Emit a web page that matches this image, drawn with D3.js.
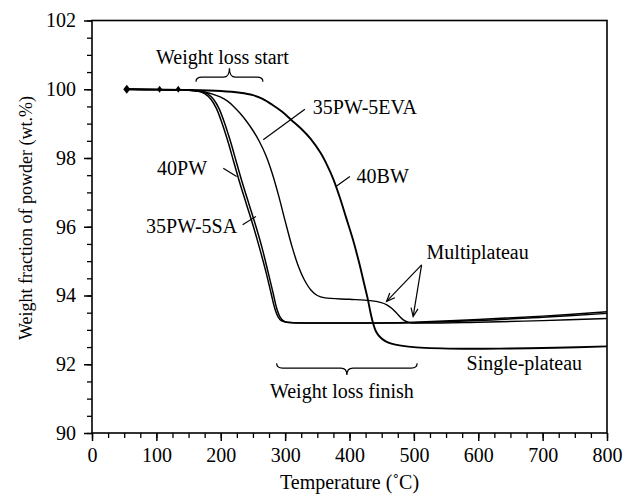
<!DOCTYPE html>
<html>
<head>
<meta charset="utf-8">
<script src="https://cdn.jsdelivr.net/npm/d3@7"></script>
<style>
  html, body { margin: 0; padding: 0; background: #fff; }
  svg { display: block; }
  text { font-family: "Liberation Serif", "DejaVu Serif", serif; fill: #000; }
</style>
</head>
<body>
<svg id="chart" width="630" height="500"></svg>
<script>
// ---------- data (temperature °C, weight %) ----------
const xTicks = [0, 100, 200, 300, 400, 500, 600, 700, 800];
const yTicks = [90, 92, 94, 96, 98, 100, 102];

const series40PW = [[54,100.0],[100,99.99],[150,99.97],[165,99.94],[175,99.87],[185,99.7],[193,99.45],[200,99.12],[210,98.55],[220,97.9],[230,97.25],[240,96.65],[250,96.05],[260,95.4],[270,94.7],[278,94.08],[284,93.62],[289,93.38],[294,93.27],[300,93.23],[350,93.2],[400,93.2],[450,93.2],[500,93.22],[600,93.3],[700,93.4],[800,93.53]];
const series35PW5SA = [[54,100.0],[100,99.99],[150,99.97],[169,99.94],[179,99.87],[189,99.7],[197,99.45],[204,99.12],[214,98.55],[224,97.9],[234,97.25],[244,96.65],[254,96.05],[264,95.4],[273,94.72],[281,94.1],[287,93.62],[292,93.38],[297,93.27],[303,93.22],[350,93.2],[400,93.2],[450,93.2],[500,93.21],[600,93.27],[700,93.37],[800,93.48]];
const series35PW5EVA = [[54,100.0],[100,99.99],[150,99.97],[175,99.92],[190,99.84],[200,99.77],[210,99.66],[220,99.5],[230,99.3],[240,99.07],[250,98.8],[260,98.48],[270,98.08],[280,97.55],[290,96.9],[300,96.17],[310,95.47],[320,94.88],[330,94.45],[340,94.16],[350,94.0],[362,93.93],[400,93.89],[432,93.85],[448,93.8],[458,93.73],[466,93.62],[473,93.49],[483,93.3],[492,93.22],[500,93.2],[600,93.22],[700,93.27],[800,93.33]];
const series40BW = [[54,100.0],[100,99.99],[150,99.98],[200,99.95],[230,99.9],[250,99.83],[265,99.72],[280,99.55],[295,99.35],[310,99.1],[325,98.85],[340,98.55],[355,98.15],[365,97.8],[375,97.38],[385,96.85],[395,96.25],[405,95.65],[415,94.95],[422,94.4],[428,93.93],[433,93.47],[437,93.17],[441,92.96],[447,92.8],[455,92.68],[465,92.6],[480,92.54],[504,92.49],[577,92.45],[650,92.46],[720,92.48],[800,92.52]];
const startMarks = [54, 105, 134];

// annotations (data coords)
const seriesLabels = [
  {text: "35PW-5EVA", t: 343, w: 99.28, from: [330.7, 99.42], to: [266, 98.53]},
  {text: "40BW",      t: 411, w: 97.27, from: [400.6, 97.46], to: [378.9, 97.17]},
  {text: "40PW",      t: 101, w: 97.51, from: [203.9, 97.70], to: [224.7, 97.46]},
  {text: "35PW-5SA",  t: 84,  w: 95.83, from: [234, 96.06],   to: [254.7, 96.30]}
];
const braceAnnotations = [
  {text: "Weight loss start",  tc: 202.6, wText: 100.74, t1: 161.5, t2: 265.5, wEnd: 100.22, wFlat: 100.35, wTip: 100.61},
  {text: "Weight loss finish", tc: 388.2, wText: 91.02,  t1: 286.8, t2: 505.1, wEnd: 92.03,  wFlat: 91.89,  wTip: 91.69}
];
const multiText = {text: "Multiplateau", t: 519.7, w: 95.06};
const multiArrows = [{from: [512, 94.89], to: [457.6, 93.83]}, {from: [512, 94.89], to: [498.9, 93.39]}];
const singleText = {text: "Single-plateau", t: 581.8, w: 91.84};

// ---------- chart ----------
const svg = d3.select("#chart");
const x = d3.scaleLinear().domain([0, 800]).range([92, 607]);
const y = d3.scaleLinear().domain([90, 102]).range([433, 20.5]);
const FS = 20;

// minor ticks
svg.append("g").attr("transform", `translate(0,${y(90)})`)
  .call(d3.axisBottom(x).tickValues(d3.range(0, 801, 25)).tickSize(5).tickFormat(""))
  .call(g => g.select(".domain").remove())
  .selectAll("line").attr("stroke-width", 1.3);
svg.append("g").attr("transform", `translate(${x(0)},0)`)
  .call(d3.axisLeft(y).tickValues(d3.range(90, 102.01, 0.5)).tickSize(5).tickFormat(""))
  .call(g => g.select(".domain").remove())
  .selectAll("line").attr("stroke-width", 1.3);

// major ticks
const xa = svg.append("g").attr("transform", `translate(0,${y(90)})`)
  .call(d3.axisBottom(x).tickValues(xTicks).tickSize(8).tickPadding(7).tickFormat(d3.format("d")));
xa.select(".domain").remove();
xa.selectAll("line").attr("stroke-width", 1.5);
xa.selectAll("text").attr("font-size", FS).attr("font-family", "Liberation Serif");

const ya = svg.append("g").attr("transform", `translate(${x(0)},0)`)
  .call(d3.axisLeft(y).tickValues(yTicks).tickSize(8).tickPadding(8).tickFormat(d3.format("d")));
ya.select(".domain").remove();
ya.selectAll("line").attr("stroke-width", 1.5);
ya.selectAll("text").attr("font-size", FS).attr("font-family", "Liberation Serif");

// frame
svg.append("rect")
  .attr("x", x(0)).attr("y", y(102))
  .attr("width", x(800) - x(0)).attr("height", y(90) - y(102))
  .attr("fill", "none").attr("stroke", "#000").attr("stroke-width", 1.6);

// axis titles
svg.append("text").attr("x", (x(0) + x(800)) / 2).attr("y", 489)
  .attr("text-anchor", "middle").attr("font-size", FS).text("Temperature (˚C)");
svg.append("text").attr("transform", `translate(32,218) rotate(-90)`)
  .attr("text-anchor", "middle").attr("font-size", 18).text("Weight fraction of powder (wt.%)");

// curves
const line = d3.line().x(d => x(d[0])).y(d => y(d[1])).curve(d3.curveCatmullRom.alpha(0.5));
const curves = [
  {data: series40PW, w: 1.5},
  {data: series35PW5SA, w: 1.5},
  {data: series35PW5EVA, w: 1.4},
  {data: series40BW, w: 1.9}
];
svg.append("g").selectAll("path").data(curves).join("path")
  .attr("d", d => line(d.data))
  .attr("fill", "none").attr("stroke", "#000")
  .attr("stroke-width", d => d.w).attr("stroke-linejoin", "round");

// start marks (small diamonds)
svg.append("g").selectAll("path").data(startMarks).join("path")
  .attr("d", (d, i) => {
    const cx = x(d), cy = y(100), hw = i === 0 ? 3.5 : 2.5, hh = i === 0 ? 4.5 : 3.5;
    return `M${cx},${cy - hh}L${cx + hw},${cy}L${cx},${cy + hh}L${cx - hw},${cy}Z`;
  })
  .attr("fill", "#000");

// series labels + leaders
const lab = svg.append("g");
seriesLabels.forEach(s => {
  lab.append("text").attr("x", x(s.t)).attr("y", y(s.w)).attr("font-size", FS).text(s.text);
  lab.append("line")
    .attr("x1", x(s.from[0])).attr("y1", y(s.from[1]))
    .attr("x2", x(s.to[0])).attr("y2", y(s.to[1]))
    .attr("stroke", "#000").attr("stroke-width", 1.2);
});

// braces
braceAnnotations.forEach(b => {
  const x1 = x(b.t1), x2 = x(b.t2), xm = (x1 + x2) / 2;
  const ye = y(b.wEnd), yf = y(b.wFlat), yt = y(b.wTip);
  const r = 6;
  const p = `M${x1},${ye} Q${x1},${yf} ${x1 + r},${yf} L${xm - r},${yf} Q${xm},${yf} ${xm},${yt} ` +
            `Q${xm},${yf} ${xm + r},${yf} L${x2 - r},${yf} Q${x2},${yf} ${x2},${ye}`;
  svg.append("path").attr("d", p).attr("fill", "none").attr("stroke", "#000").attr("stroke-width", 1.2);
  svg.append("text").attr("x", x(b.tc)).attr("y", y(b.wText))
    .attr("text-anchor", "middle").attr("font-size", FS).text(b.text);
});

// multiplateau
svg.append("text").attr("x", x(multiText.t)).attr("y", y(multiText.w)).attr("font-size", FS).text(multiText.text);
multiArrows.forEach(a => {
  const x1 = x(a.from[0]), y1 = y(a.from[1]), x2 = x(a.to[0]), y2 = y(a.to[1]);
  svg.append("line").attr("x1", x1).attr("y1", y1).attr("x2", x2).attr("y2", y2)
    .attr("stroke", "#000").attr("stroke-width", 1.2);
  const ang = Math.atan2(y2 - y1, x2 - x1), L = 9, spread = 0.4;
  const h1 = [x2 - L * Math.cos(ang - spread), y2 - L * Math.sin(ang - spread)];
  const h2 = [x2 - L * Math.cos(ang + spread), y2 - L * Math.sin(ang + spread)];
  svg.append("path").attr("d", `M${h1[0]},${h1[1]}L${x2},${y2}L${h2[0]},${h2[1]}`)
    .attr("fill", "none").attr("stroke", "#000").attr("stroke-width", 1.2);
});

svg.append("text").attr("x", x(singleText.t)).attr("y", y(singleText.w)).attr("font-size", FS).text(singleText.text);
</script>
</body>
</html>
